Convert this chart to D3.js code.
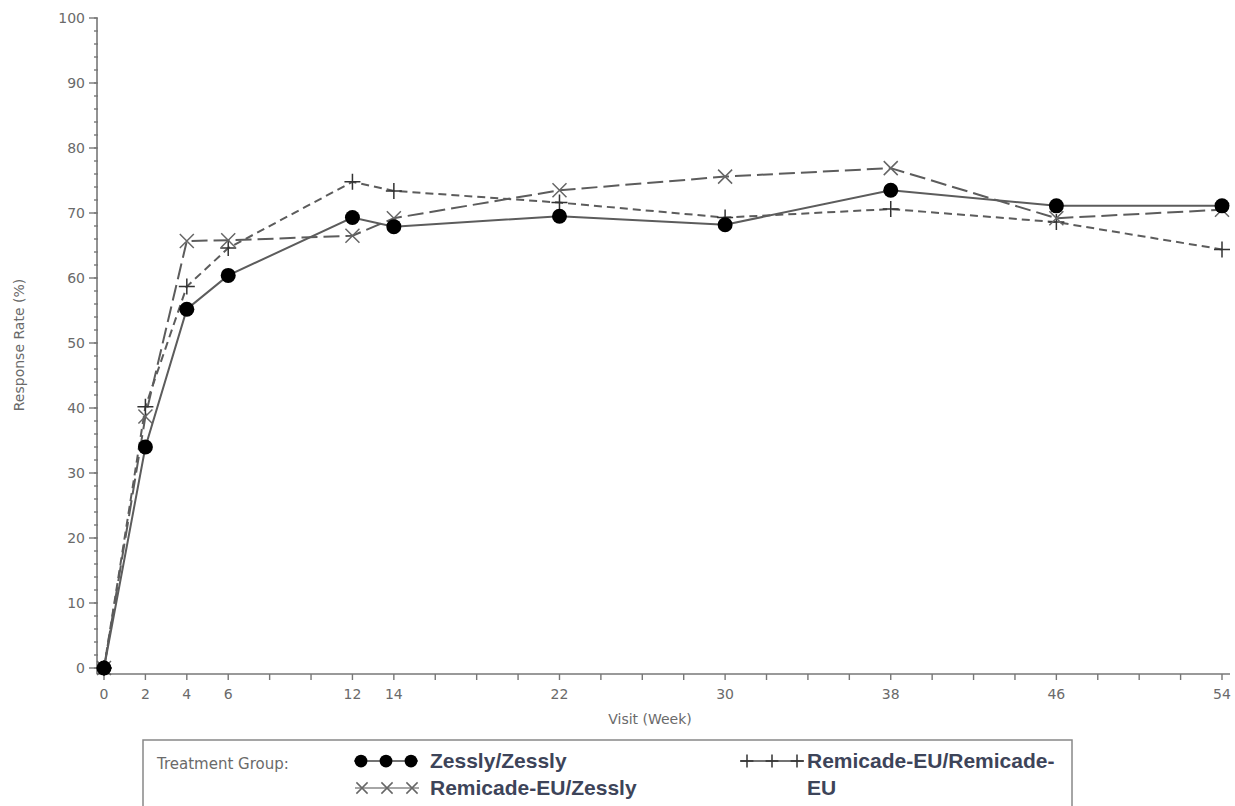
<!DOCTYPE html>
<html>
  <head>
    <title>Response Rate by Visit</title>
    <script src="https://d3js.org/d3.v7.min.js"></script>
    <style>
      body { margin: 0; background: #fff; }
      .tick-label { font-family: "DejaVu Sans", sans-serif; font-size: 14px; fill: #6a6a6a; }
      .legend-label { font-family: "Liberation Sans", Arial, sans-serif; font-size: 21px; font-weight: bold; fill: #3d4459; }
    </style>
  </head>
  <body>
    <div id="chart"></div>
    <script>
      // data
      const weeks = [0, 2, 4, 6, 12, 14, 22, 30, 38, 46, 54];
      const zesslyZessly = [0, 34.0, 55.2, 60.4, 69.3, 67.9, 69.5, 68.2, 73.5, 71.1, 71.1];
      const remicadeZessly = [0, 38.7, 65.7, 65.8, 66.5, 69.2, 73.5, 75.6, 76.9, 69.2, 70.5];
      const remicadeRemicade = [0, 40.2, 58.7, 64.6, 74.8, 73.4, 71.6, 69.3, 70.6, 68.6, 64.4];
      const xTickLabels = [0, 2, 4, 6, 12, 14, 22, 30, 38, 46, 54];
      const yTickLabels = [0, 10, 20, 30, 40, 50, 60, 70, 80, 90, 100];

      const W = 1235, H = 806;
      const svg = d3.select("#chart").append("svg")
        .attr("width", W).attr("height", H);

      const x = d3.scaleLinear().domain([0, 54]).range([104, 1222]);
      const y = d3.scaleLinear().domain([0, 100]).range([668, 18]);
      const axisColor = "#777";
      const axisX = 97, axisY = 674;

      // Y axis
      const gy = svg.append("g");
      gy.append("line").attr("x1", axisX).attr("x2", axisX)
        .attr("y1", y(100)).attr("y2", axisY)
        .attr("stroke", axisColor).attr("stroke-width", 1.6);
      gy.selectAll(".minor").data(d3.range(0, 101, 2)).join("line")
        .attr("x1", axisX - 3).attr("x2", axisX + 1)
        .attr("y1", d => y(d)).attr("y2", d => y(d))
        .attr("stroke", axisColor).attr("stroke-width", 1.4);
      gy.selectAll(".major").data(yTickLabels).join("line")
        .attr("x1", axisX - 8).attr("x2", axisX)
        .attr("y1", d => y(d)).attr("y2", d => y(d))
        .attr("stroke", axisColor).attr("stroke-width", 1.4);
      gy.selectAll("text").data(yTickLabels).join("text")
        .attr("class", "tick-label")
        .attr("x", axisX - 12).attr("y", d => y(d) + 5)
        .attr("text-anchor", "end")
        .text(d => d);

      // X axis
      const gx = svg.append("g");
      gx.append("line").attr("x1", axisX).attr("x2", 1230)
        .attr("y1", axisY).attr("y2", axisY)
        .attr("stroke", axisColor).attr("stroke-width", 1.6);
      gx.selectAll(".tk").data(d3.range(0, 55, 2)).join("line")
        .attr("x1", d => x(d)).attr("x2", d => x(d))
        .attr("y1", axisY).attr("y2", axisY + 6)
        .attr("stroke", axisColor).attr("stroke-width", 1.4);
      gx.selectAll("text").data(xTickLabels).join("text")
        .attr("class", "tick-label")
        .attr("x", d => x(d)).attr("y", axisY + 25)
        .attr("text-anchor", "middle")
        .text(d => d);

      // axis titles
      svg.append("text").attr("class", "tick-label")
        .attr("x", 650).attr("y", 724).attr("text-anchor", "middle")
        .text("Visit (Week)");
      svg.append("text").attr("class", "tick-label")
        .attr("transform", "translate(24,345) rotate(-90)")
        .attr("text-anchor", "middle")
        .text("Response Rate (%)");

      const series = [
        { name: "Remicade-EU/Remicade-EU", values: remicadeRemicade, dash: "8,5", marker: "plus" },
        { name: "Remicade-EU/Zessly", values: remicadeZessly, dash: "16,6", marker: "x" },
        { name: "Zessly/Zessly", values: zesslyZessly, dash: null, marker: "dot" }
      ];

      const line = d3.line().x(d => x(d[0])).y(d => y(d[1]));
      const lineColor = "#5c5c5c";

      function drawMarker(g, kind, cx, cy, s) {
        if (kind === "dot") {
          g.append("circle").attr("cx", cx).attr("cy", cy).attr("r", 7.5 * s).attr("fill", "#000");
        } else if (kind === "x") {
          const r = 7 * s;
          g.append("path")
            .attr("d", `M${cx - r},${cy - r}L${cx + r},${cy + r}M${cx - r},${cy + r}L${cx + r},${cy - r}`)
            .attr("stroke", "#666").attr("stroke-width", 1.5).attr("fill", "none");
        } else {
          const r = 8 * s;
          g.append("path")
            .attr("d", `M${cx - r},${cy}L${cx + r},${cy}M${cx},${cy - r}L${cx},${cy + r}`)
            .attr("stroke", "#333").attr("stroke-width", 1.5).attr("fill", "none");
        }
      }

      series.forEach(s => {
        const pts = weeks.map((w, i) => [w, s.values[i]]);
        const p = svg.append("path").datum(pts)
          .attr("d", line)
          .attr("fill", "none")
          .attr("stroke", lineColor)
          .attr("stroke-width", 2);
        if (s.dash) p.attr("stroke-dasharray", s.dash);
      });
      series.forEach(s => {
        const g = svg.append("g");
        weeks.forEach((w, i) => drawMarker(g, s.marker, x(w), y(s.values[i]), 1));
      });

      // legend
      const lg = svg.append("g");
      lg.append("rect").attr("x", 143).attr("y", 740).attr("width", 929).attr("height", 90)
        .attr("fill", "none").attr("stroke", "#888").attr("stroke-width", 1.5);
      lg.append("text").attr("class", "tick-label")
        .style("font-size", "15px")
        .attr("x", 157).attr("y", 769).text("Treatment Group:");

      const legendItems = [
        { marker: "dot", lx: 354, ly: 761, tx: 430, label: ["Zessly/Zessly"] },
        { marker: "x", lx: 355, ly: 788, tx: 430, label: ["Remicade-EU/Zessly"] },
        { marker: "plus", lx: 740, ly: 761, tx: 807, label: ["Remicade-EU/Remicade-", "EU"] }
      ];
      legendItems.forEach(it => {
        lg.append("line").attr("x1", it.lx).attr("x2", it.lx + 64)
          .attr("y1", it.ly).attr("y2", it.ly)
          .attr("stroke", it.marker === "x" ? "#888" : "#444").attr("stroke-width", 1.5);
        [0, 1, 2].forEach(k => drawMarker(lg, it.marker, it.lx + 7 + k * 25, it.ly, it.marker === "dot" ? 0.85 : 0.8));
        it.label.forEach((t, j) => {
          lg.append("text").attr("class", "legend-label")
            .attr("x", it.tx)
            .attr("y", it.ly + 7 + j * 27)
            .text(t);
        });
      });
    </script>
  </body>
</html>
